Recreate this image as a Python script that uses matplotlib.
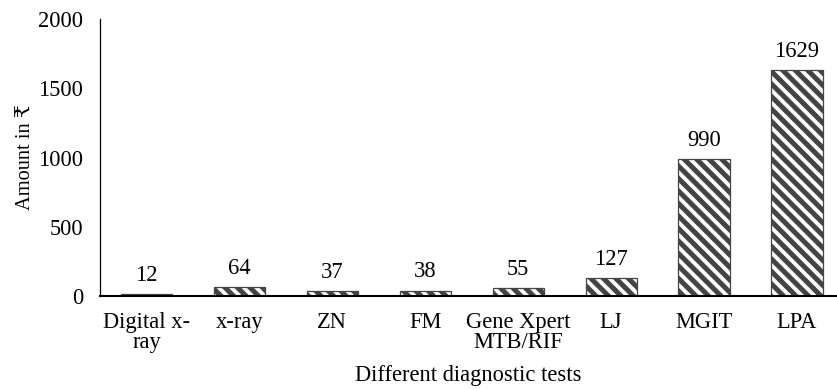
import matplotlib
matplotlib.use("Agg")
import matplotlib.pyplot as plt

# cost of each diagnostic test
tests = ["Digital x-\nray", "x-ray", "ZN", "FM", "Gene Xpert\nMTB/RIF", "LJ", "MGIT", "LPA"]
amounts = [12, 64, 37, 38, 55, 127, 990, 1629]
y_ticks = [0, 500, 1000, 1500, 2000]

plt.rcParams['font.family'] = ['Liberation Serif', 'DejaVu Serif', 'DejaVu Sans']
plt.rcParams['hatch.linewidth'] = 2.4
plt.rcParams['hatch.color'] = 'black'

DPI = 150
FS = 10.8
fig = plt.figure(figsize=(837 / DPI, 389 / DPI), dpi=DPI)
ax = fig.add_axes([100 / 837, 93 / 389, 736 / 837, 277 / 389])

x = range(len(tests))
bars = ax.bar(x, amounts, width=0.55, color='white', edgecolor='#444444',
              linewidth=0.6, hatch='\\\\\\\\')

for xi, v in zip(x, amounts):
    ax.annotate(str(v), (xi, v), xytext=(0, 4), textcoords='offset points',
                ha='center', va='bottom', fontsize=FS)

ax.set_xlim(-0.5, 7.42)
ax.set_ylim(0, 2000)
ax.set_yticks(y_ticks)
ax.set_xticks(list(x))
ax.set_xticklabels(tests, fontsize=FS, linespacing=0.95)
ax.tick_params(axis='y', labelsize=FS, length=0, pad=8)
ax.tick_params(axis='x', length=0, pad=7.5)

for s in ['top', 'right']:
    ax.spines[s].set_visible(False)
ax.spines['left'].set_linewidth(0.6)
ax.spines['bottom'].set_linewidth(1.0)

ax.set_ylabel("Amount in ₹", fontsize=9.8, va='center')
ax.yaxis.set_label_coords(-0.1, 0.5)
ax.set_xlabel("Different diagnostic tests", fontsize=FS, labelpad=6)

fig.savefig("out.png", dpi=DPI)
